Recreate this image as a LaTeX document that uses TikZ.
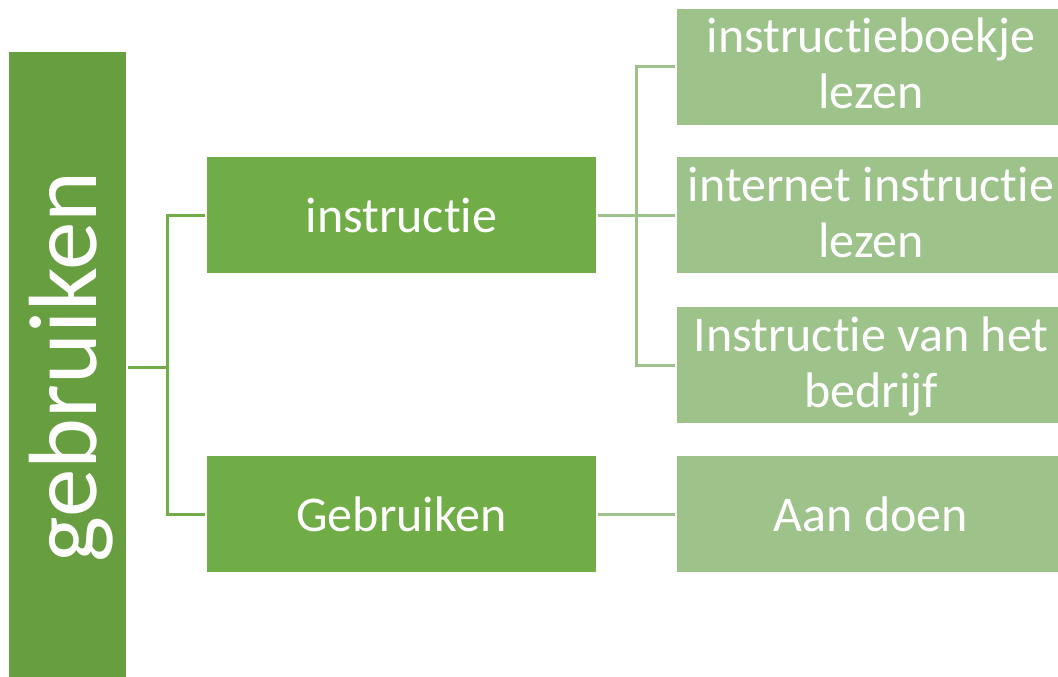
\documentclass[tikz,border=0pt]{standalone}
\usepackage{fontspec}
\setmainfont[Ligatures={NoCommon,NoRare,NoContextual}]{Carlito}
\newfontfamily\boxfont[Ligatures={NoCommon,NoRare,NoContextual}]{Carlito}
\newfontfamily\rootfont[Ligatures={NoCommon,NoRare,NoContextual}]{Carlito}
\definecolor{rootgreen}{HTML}{679E40}
\definecolor{midgreen}{HTML}{70AD47}
\definecolor{lightgreen}{HTML}{9DC38A}
\tikzset{
  rootbox/.style={fill=rootgreen, draw=none, inner sep=0pt, text=white,
    minimum width=117pt, minimum height=630pt},
  roottext/.style={rotate=90, anchor=base, text=white, inner sep=0pt,
    font=\rootfont\fontsize{97}{110}\selectfont},
  midbox/.style={fill=midgreen, draw=none, inner sep=0pt, text=white,
    minimum width=389pt, minimum height=116pt,
    font=\boxfont\fontsize{50}{56}\selectfont},
  leafbox/.style={fill=lightgreen, draw=none, inner sep=0pt, text=white,
    minimum width=388pt, minimum height=116pt,
    font=\boxfont\fontsize{50}{56}\selectfont},
  leaftext/.style={inner sep=0pt, text=white, anchor=base,
    font=\boxfont\fontsize{50}{56}\selectfont},
  rootline/.style={draw=midgreen, line width=3pt, shorten <=2pt, shorten >=2pt},
  leafline/.style={draw=lightgreen, line width=3pt, shorten <=2pt, shorten >=2pt},
}
\newcommand{\twolines}[2]{\begin{tabular}[t]{@{}c@{}}#1\\#2\end{tabular}}
\begin{document}
\begin{tikzpicture}[x=1pt,y=-1pt]
\clip (0,0) rectangle (1058,677);
\fill[white] (0,0) rectangle (1058,677);
\node[rootbox] (root) at (67.5,367) {};
\node[roottext] (rootlabel) at ([xshift=28.5pt]root.center) {gebruiken};
\node[midbox] (instr) at (401.5,215) {instructie};
\node[midbox] (gebr) at (401.5,514) {Gebruiken};
\node[leafbox] (r1) at (871,67) {};
\node[leaftext] (r1t) at ([yshift=14pt]r1.center) {\twolines{instructieboekje}{lezen}};
\node[leafbox] (r2) at (871,215) {};
\node[leaftext] (r2t) at ([yshift=14pt]r2.center) {\twolines{internet instructie}{lezen}};
\node[leafbox] (r3) at (871,365) {};
\node[leaftext] (r3t) at ([yshift=14pt]r3.center) {\twolines{Instructie van het}{bedrijf}};
\node[leafbox] (r4) at (871,514) {Aan doen};
\draw[rootline] (root.east) -- ++(41,0) |- (instr.west);
\draw[rootline] (root.east) -- ++(41,0) |- (gebr.west);
\draw[leafline] (instr.east) -- ++(40,0) |- (r1.west);
\draw[leafline] (instr.east) -- (r2.west);
\draw[leafline] (instr.east) -- ++(40,0) |- (r3.west);
\draw[leafline] (gebr.east) -- (r4.west);
\end{tikzpicture}
\end{document}
